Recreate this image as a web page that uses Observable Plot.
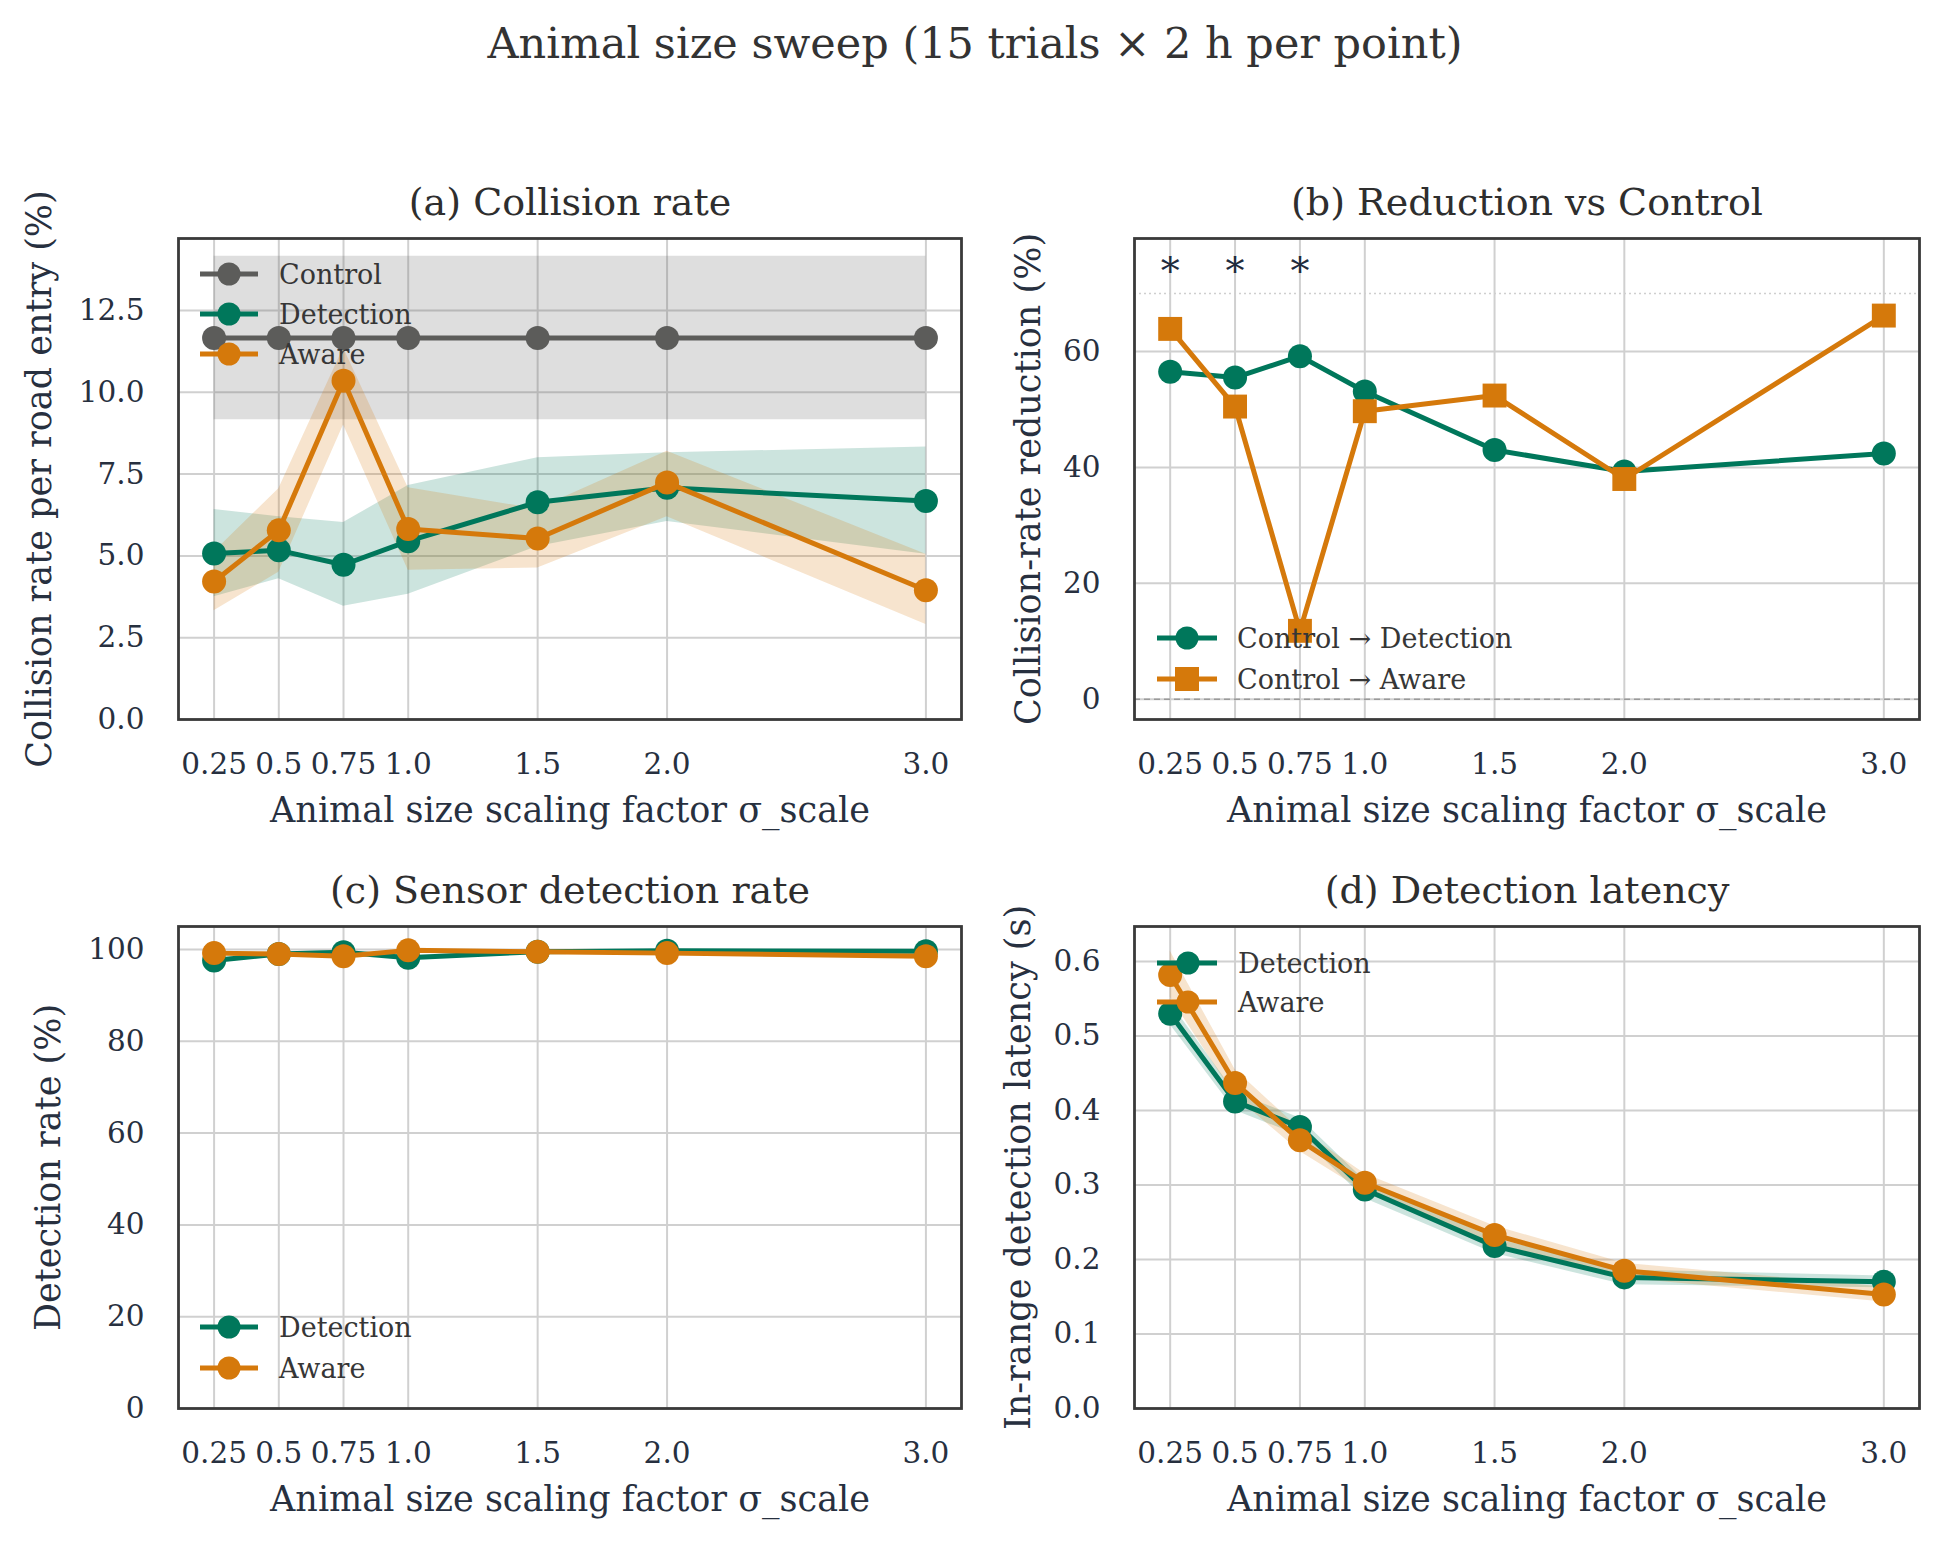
<!DOCTYPE html>
<html>
<head>
<meta charset="utf-8">
<script src="https://cdn.jsdelivr.net/npm/d3@7"></script>
<script src="https://cdn.jsdelivr.net/npm/@observablehq/plot@0.6"></script>
<style>
  body { margin: 0; background: #fff; }
  #fig { position: relative; width: 1941px; height: 1544px; background: #fff; font-family: "DejaVu Serif", serif; overflow: hidden; }
  #suptitle { position: absolute; left: 0; width: 1950px; top: 22px; text-align: center; font-size: 43px; line-height: 1; color: #333; }
</style>
</head>
<body>
<div id="fig">
  <div id="suptitle">Animal size sweep (15 trials × 2 h per point)</div>
</div>
<script>
// Animal size scaling factor (x for every panel)
const sigma = [0.25, 0.5, 0.75, 1.0, 1.5, 2.0, 3.0];
const sigmaLabels = ["0.25", "0.5", "0.75", "1.0", "1.5", "2.0", "3.0"];

// (a) collision rate per road entry (%), mean with shaded spread
const controlRate = [11.66, 11.66, 11.66, 11.66, 11.66, 11.66, 11.66];
const controlLo   = [9.16, 9.16, 9.16, 9.16, 9.16, 9.16, 9.16];
const controlHi   = [14.16, 14.16, 14.16, 14.16, 14.16, 14.16, 14.16];
const detectionRate = [5.07, 5.17, 4.73, 5.45, 6.64, 7.08, 6.68];
const detectionLo   = [3.75, 4.3, 3.46, 3.83, 5.29, 6.05, 5.05];
const detectionHi   = [6.42, 6.2, 6.02, 7.15, 8.0, 8.15, 8.33];
const awareRate = [4.22, 5.78, 10.35, 5.82, 5.53, 7.24, 3.95];
const awareLo   = [3.32, 4.5, 9.0, 4.56, 4.63, 6.2, 2.9];
const awareHi   = [5.12, 7.05, 11.35, 7.08, 6.43, 8.2, 5.05];

// (b) collision-rate reduction vs control (%)
const detectionReduction = [56.5, 55.5, 59.2, 53.1, 43.0, 39.3, 42.4];
const awareReduction     = [63.9, 50.5, 11.8, 49.7, 52.4, 38.0, 66.2];
const significant = [0.25, 0.5, 0.75];
const starLevel = 73.8;
const referenceLevel = 70;

// (c) sensor detection rate (%)
const detectionSensor = [97.6, 99.0, 99.4, 98.2, 99.5, 99.7, 99.6];
const detectionSensorLo = [97.1, 98.6, 99.0, 97.7, 99.2, 99.4, 99.3];
const detectionSensorHi = [98.1, 99.4, 99.8, 98.7, 99.8, 100.0, 99.9];
const awareSensor = [99.2, 99.0, 98.5, 99.8, 99.5, 99.2, 98.5];
const awareSensorLo = [98.8, 98.6, 98.0, 99.5, 99.2, 98.8, 98.0];
const awareSensorHi = [99.6, 99.4, 99.0, 100.0, 99.8, 99.6, 99.0];

// (d) in-range detection latency (s)
const detectionLatency   = [0.530, 0.412, 0.378, 0.294, 0.218, 0.176, 0.170];
const detectionLatencyLo = [0.515, 0.400, 0.366, 0.282, 0.208, 0.166, 0.162];
const detectionLatencyHi = [0.545, 0.424, 0.390, 0.306, 0.228, 0.186, 0.178];
const awareLatency   = [0.582, 0.437, 0.360, 0.303, 0.233, 0.185, 0.153];
const awareLatencyLo = [0.552, 0.419, 0.345, 0.291, 0.221, 0.175, 0.143];
const awareLatencyHi = [0.614, 0.455, 0.375, 0.315, 0.245, 0.195, 0.163];

const C_CONTROL = "#5c5c5a", C_DET = "#00775b", C_AWARE = "#d5790b";
const INK = "#27303f", TITLE_INK = "#2e2e2e", LEGEND_INK = "#363636", GRID = "#d0d0d0";
const X_LABEL = "Animal size scaling factor σ_scale";
const LINE_W = 5, DOT_R = 12;

function rows(v, lo, hi) {
  return sigma.map((s, i) => ({s, v: v[i], lo: lo ? lo[i] : null, hi: hi ? hi[i] : null}));
}
function band(data, color) {
  return Plot.areaY(data, {x: "s", y1: "lo", y2: "hi", fill: color, fillOpacity: 0.2});
}
function trace(data, color, symbol = "circle", r = DOT_R) {
  return [
    Plot.line(data, {x: "s", y: "v", stroke: color, strokeWidth: LINE_W}),
    Plot.dot(data, {x: "s", y: "v", fill: color, r, symbol})
  ];
}

function legend(svg, items, {x0, x1, xm, xt, y0, step}) {
  const g = d3.select(svg).append("g")
    .attr("font-family", "DejaVu Serif").attr("font-size", 27)
    .attr("text-anchor", "start");
  items.forEach((it, i) => {
    const y = y0 + i * step;
    g.append("line").attr("x1", x0).attr("x2", x1).attr("y1", y).attr("y2", y)
      .attr("stroke", it.color).attr("stroke-width", LINE_W);
    if (it.symbol === "square") {
      g.append("rect").attr("x", xm - 12).attr("y", y - 12)
        .attr("width", 24).attr("height", 24).attr("fill", it.color);
    } else {
      g.append("circle").attr("cx", xm).attr("cy", y).attr("r", DOT_R - 0.5).attr("fill", it.color);
    }
    g.append("text").attr("x", xt).attr("y", y).attr("dy", "0.36em")
      .attr("text-anchor", "start").attr("fill", LEGEND_INK).text(it.label);
  });
}

function panel(o) {
  const svg = Plot.plot({
    width: o.width, height: o.height,
    marginLeft: o.ml, marginRight: o.mr, marginTop: o.mt, marginBottom: o.mb,
    style: {fontFamily: "DejaVu Serif", fontSize: "29.5px", background: "transparent", overflow: "visible"},
    x: {domain: [0.1125, 3.1375]},
    y: {domain: o.yDomain},
    marks: [
      Plot.gridX({ticks: sigma, stroke: GRID, strokeOpacity: 1, strokeWidth: 2}),
      Plot.gridY({ticks: o.yTicks, stroke: GRID, strokeOpacity: 1, strokeWidth: 2}),
      ...o.marks,
      Plot.frame({stroke: "#3a3a3a", strokeWidth: 2.8}),
      Plot.axisX({ticks: sigma, tickSize: 0, tickPadding: 34, fontSize: 29.5, fill: INK, label: null,
        tickFormat: d => sigmaLabels[sigma.indexOf(d)]}),
      Plot.axisY({ticks: o.yTicks, tickSize: 0, tickPadding: 34, fontSize: 29.5, fill: INK, label: null,
        tickFormat: o.yFormat}),
      Plot.text([o.title], {frameAnchor: "top", dy: -24, lineAnchor: "bottom", textAnchor: "middle",
        fontSize: 38, fill: TITLE_INK, text: d => d}),
      Plot.text([X_LABEL], {frameAnchor: "bottom", dy: 102, lineAnchor: "bottom", textAnchor: "middle",
        fontSize: 35, fill: INK, text: d => d}),
      Plot.text([o.yLabel], {frameAnchor: "left", dx: o.yLabelX - (o.left + o.ml), rotate: -90,
        lineAnchor: "top", textAnchor: "middle", fontSize: 35, fill: INK, text: d => d})
    ]
  });
  svg.style.position = "absolute";
  svg.style.left = o.left + "px";
  svg.style.top = o.top + "px";
  if (o.legend) legend(svg, o.legend.items, o.legend);
  document.getElementById("fig").appendChild(svg);
  return svg;
}

const fmt1 = d3.format(".1f");
const fmt0 = d3.format("d");

const ctrl = rows(controlRate, controlLo, controlHi);
const det = rows(detectionRate, detectionLo, detectionHi);
const awr = rows(awareRate, awareLo, awareHi);

// (a) Collision rate
panel({
  left: 0, top: 150, width: 980, height: 700, ml: 178, mr: 19, mt: 88, mb: 131,
  yDomain: [0, 14.7], yTicks: [0, 2.5, 5, 7.5, 10, 12.5], yFormat: fmt1,
  title: "(a) Collision rate", yLabel: "Collision rate per road entry (%)", yLabelX: 26,
  marks: [
    band(ctrl, C_CONTROL), band(det, C_DET), band(awr, C_AWARE),
    ...trace(ctrl, C_CONTROL), ...trace(det, C_DET), ...trace(awr, C_AWARE)
  ],
  legend: {x0: 200, x1: 258, xm: 229, xt: 279, y0: 124, step: 40, items: [
    {label: "Control", color: C_CONTROL},
    {label: "Detection", color: C_DET},
    {label: "Aware", color: C_AWARE}
  ]}
});

// (b) Reduction vs Control
panel({
  left: 980, top: 150, width: 961, height: 700, ml: 154, mr: 22, mt: 88, mb: 131,
  yDomain: [-3.5, 79.5], yTicks: [0, 20, 40, 60], yFormat: fmt0,
  title: "(b) Reduction vs Control", yLabel: "Collision-rate reduction (%)", yLabelX: 1015,
  marks: [
    Plot.ruleY([referenceLevel], {stroke: "#cfcfcf", strokeWidth: 1.4, strokeDasharray: "2,3"}),
    Plot.ruleY([0], {stroke: "#9a9a9a", strokeWidth: 1.6, strokeDasharray: "6,4"}),
    ...trace(rows(detectionReduction), C_DET),
    ...trace(rows(awareReduction), C_AWARE, "square", 13.5),
    Plot.text(significant, {x: d => d, y: () => starLevel, text: () => "*", fontSize: 38,
      lineAnchor: "middle", textAnchor: "middle", fill: "#1f2b3d"})
  ],
  legend: {x0: 177, x1: 237, xm: 207, xt: 257, y0: 488, step: 41, items: [
    {label: "Control → Detection", color: C_DET},
    {label: "Control → Aware", color: C_AWARE, symbol: "square"}
  ]}
});

// (c) Sensor detection rate
const detS = rows(detectionSensor, detectionSensorLo, detectionSensorHi);
const awrS = rows(awareSensor, awareSensorLo, awareSensorHi);
panel({
  left: 0, top: 850, width: 980, height: 694, ml: 178, mr: 19, mt: 76, mb: 136,
  yDomain: [0, 105], yTicks: [0, 20, 40, 60, 80, 100], yFormat: fmt0,
  title: "(c) Sensor detection rate", yLabel: "Detection rate (%)", yLabelX: 35,
  marks: [
    band(detS, C_DET), band(awrS, C_AWARE),
    ...trace(detS, C_DET), ...trace(awrS, C_AWARE)
  ],
  legend: {x0: 200, x1: 258, xm: 229, xt: 279, y0: 477, step: 41, items: [
    {label: "Detection", color: C_DET},
    {label: "Aware", color: C_AWARE}
  ]}
});

// (d) Detection latency
const detL = rows(detectionLatency, detectionLatencyLo, detectionLatencyHi);
const awrL = rows(awareLatency, awareLatencyLo, awareLatencyHi);
panel({
  left: 980, top: 850, width: 961, height: 694, ml: 154, mr: 22, mt: 76, mb: 136,
  yDomain: [0, 0.647], yTicks: [0, 0.1, 0.2, 0.3, 0.4, 0.5, 0.6], yFormat: fmt1,
  title: "(d) Detection latency", yLabel: "In-range detection latency (s)", yLabelX: 1005,
  marks: [
    band(detL, C_DET), band(awrL, C_AWARE),
    ...trace(detL, C_DET), ...trace(awrL, C_AWARE)
  ],
  legend: {x0: 177, x1: 237, xm: 208, xt: 258, y0: 113, step: 39, items: [
    {label: "Detection", color: C_DET},
    {label: "Aware", color: C_AWARE}
  ]}
});
</script>
</body>
</html>
